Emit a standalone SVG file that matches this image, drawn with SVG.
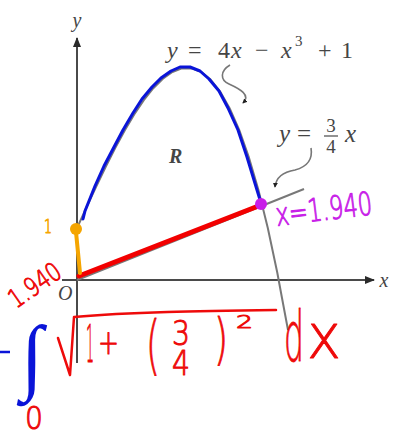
<svg xmlns="http://www.w3.org/2000/svg" width="395" height="436" viewBox="0 0 395 436">
<style>
.ax{stroke:#4a4a4a;stroke-width:2;fill:none}
.gc{stroke:#787878;stroke-width:2;fill:none;stroke-linejoin:round}
.lbl{font-family:"Liberation Serif",serif;fill:#454545}
.it{font-style:italic}
.hw{font-family:"DejaVu Sans","Liberation Sans",sans-serif;font-weight:200;stroke-width:1;stroke-linejoin:round}
.red{fill:#ee0a0a;stroke:#ee0a0a}
.rs{stroke:#ee0a0a;stroke-width:2.5;fill:none;stroke-linecap:round;stroke-linejoin:round}
</style>
<defs>
<marker id="ah" viewBox="0 0 10 10" refX="9" refY="5" markerWidth="10" markerHeight="10" markerUnits="userSpaceOnUse" orient="auto">
<path d="M0,1 L10,5 L0,9 Z" fill="#2a2a2a"/>
</marker>
<marker id="sm" viewBox="0 0 6 6" refX="5" refY="3" markerWidth="5" markerHeight="5" markerUnits="userSpaceOnUse" orient="auto">
<path d="M0,0 L6,3 L0,6 Z" fill="#222"/>
</marker>
</defs>

<g id="axes">
<line class="ax" x1="77" y1="363" x2="77" y2="38" marker-end="url(#ah)"/>
<line class="ax" x1="62" y1="280" x2="374" y2="280" marker-end="url(#ah)"/>
<text class="lbl it" x="77" y="27" font-size="20" text-anchor="middle">y</text>
<text class="lbl it" x="384" y="287" font-size="20" text-anchor="middle">x</text>
<text class="lbl it" x="58" y="300" font-size="20">O</text>
</g>

<g id="curves">
<polyline class="gc" points="77,228 86.5,207.3 96.1,186.8 105.6,167 115.2,148.1 124.7,130.5 134.2,114.4 143.8,100.2 153.3,88.2 162.9,78.7 172.4,72 181.9,68.4 191.5,68.3 201,71.8 210.6,79.5 220.1,91.5 229.6,108.2 239.2,129.9 248.7,156.9 258.3,189.5 267.8,228 277.3,272.8 282,298 288,330"/>
<line class="gc" x1="77" y1="280" x2="304" y2="189"/>
</g>

<g id="labels">
<text class="lbl" font-size="24" y="58"><tspan class="it" x="167">y</tspan><tspan x="188">=</tspan><tspan x="218">4</tspan><tspan class="it" x="231">x</tspan><tspan x="255">−</tspan><tspan class="it" x="281">x</tspan><tspan x="295" y="46" font-size="15">3</tspan><tspan x="318" y="58">+</tspan><tspan x="341">1</tspan></text>
<path d="M230,65 C220,71 220,80 229,84 C240,89 251,95 243,103" fill="none" stroke="#777" stroke-width="1.6" marker-end="url(#sm)"/>
<text class="lbl it" x="279" y="142" font-size="25">y</text>
<text class="lbl" x="297" y="142" font-size="25">=</text>
<text class="lbl" x="331" y="132" font-size="19" text-anchor="middle">3</text>
<line x1="324" y1="136" x2="338" y2="136" stroke="#4a4a4a" stroke-width="1.2"/>
<text class="lbl" x="331" y="153" font-size="19" text-anchor="middle">4</text>
<text class="lbl it" x="345" y="142" font-size="25">x</text>
<path d="M311,148 C313,160 306,167 295,170 C283,172 276,177 275,187" fill="none" stroke="#777" stroke-width="1.6" marker-end="url(#sm)"/>
<text class="lbl it" x="169" y="163" font-size="20" font-weight="bold" fill="#555">R</text>
</g>

<g id="annotations">
<polyline points="83,219 85,211 95,186 104,166 114,147 123,130 133,113 142,99 152,87 161,78 171,71 180,67 190,67 200,71 209,79 219,91 228,108 238,130 247,157 257,190 261,203" fill="none" stroke="#0a14d8" stroke-width="3" stroke-linejoin="round" stroke-linecap="round"/>
<path d="M79,276 L261,205" fill="none" stroke="#f20000" stroke-width="5" stroke-linecap="round"/>
<path d="M76,232 L80,273" stroke="#f5a500" stroke-width="4" stroke-linecap="round" fill="none"/>
<ellipse cx="76" cy="229" rx="6" ry="6" fill="#f5a500"/>
<text class="hw" x="44" y="233" font-size="20" fill="#f5a500" stroke="#f5a500" textLength="8" lengthAdjust="spacingAndGlyphs">1</text>
<circle cx="261" cy="204" r="6" fill="#c81ee8"/>
<text class="hw" x="277" y="226" font-size="32" fill="#c81ee8" stroke="#c81ee8" textLength="97" lengthAdjust="spacingAndGlyphs" transform="rotate(-7 277 226)">x=1.940</text>
<text class="hw red" x="16" y="309" font-size="26" textLength="58" lengthAdjust="spacingAndGlyphs" transform="rotate(-35 16 309)">1.940</text>

<path d="M0,352 L10,352" stroke="#0a14d8" stroke-width="2.5" fill="none"/>
<text x="21" y="384" font-family="Liberation Serif,serif" font-size="84" fill="#0a14d8" textLength="22" lengthAdjust="spacingAndGlyphs">∫</text>
<text class="hw red" x="25" y="429" font-size="32" textLength="18" lengthAdjust="spacingAndGlyphs">0</text>
<path class="rs" d="M58,338 L70,375 L74,317 C130,312 200,311 276,310"/>
<text class="hw red" x="86" y="362" font-size="52" textLength="8" lengthAdjust="spacingAndGlyphs">1</text>
<text class="hw red" x="98" y="354" font-size="34" textLength="21" lengthAdjust="spacingAndGlyphs">+</text>
<text class="hw red" x="146" y="367" font-size="64" textLength="14" lengthAdjust="spacingAndGlyphs">(</text>
<text class="hw red" x="172" y="345" font-size="34" textLength="18" lengthAdjust="spacingAndGlyphs">3</text>
<text class="hw red" x="172" y="375" font-size="34" textLength="18" lengthAdjust="spacingAndGlyphs">4</text>
<text class="hw red" x="214" y="358" font-size="56" textLength="14" lengthAdjust="spacingAndGlyphs">)</text>
<text class="hw red" x="236" y="328" font-size="18" textLength="17" lengthAdjust="spacingAndGlyphs">2</text>
<text class="hw red" x="284" y="361" font-size="70" textLength="20" lengthAdjust="spacingAndGlyphs">d</text>
<text class="hw red" x="307" y="358" font-size="62" textLength="34" lengthAdjust="spacingAndGlyphs">x</text>
</g>
</svg>
